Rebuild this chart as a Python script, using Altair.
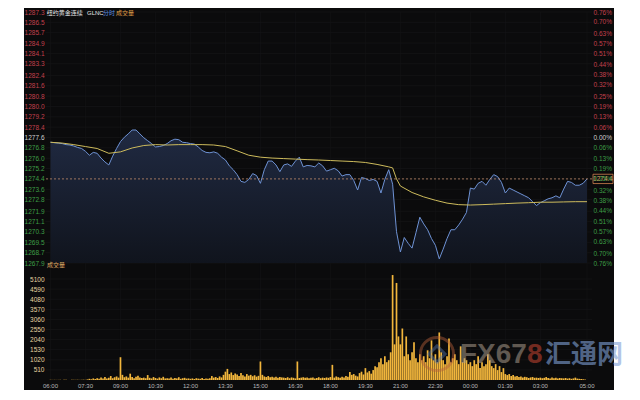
import altair as alt
import pandas as pd

# ---------------- data ----------------
price = [
    1277.24, 1277.20, 1277.17, 1277.13, 1277.05, 1277.02, 1276.94, 1276.83, 1276.75, 1276.53,
    1276.23, 1276.45, 1276.38, 1276.01, 1275.71, 1275.48, 1276.16, 1276.75, 1277.28, 1277.62,
    1277.88, 1278.18, 1278.18, 1277.88, 1277.58, 1277.35, 1277.13, 1276.87, 1276.90, 1276.98,
    1277.13, 1277.35, 1277.47, 1277.43, 1277.23, 1277.20, 1277.13, 1277.09, 1276.87, 1276.60,
    1276.45, 1276.42, 1276.49, 1276.38, 1276.08, 1275.86, 1275.41, 1275.11, 1274.73, 1274.21,
    1274.13, 1274.36, 1274.81, 1274.66, 1274.06, 1275.11, 1275.78, 1275.78, 1275.48, 1274.96,
    1275.48, 1275.56, 1275.37, 1275.78, 1276.08, 1275.33, 1275.44, 1275.41, 1275.33, 1275.63,
    1275.41, 1275.00, 1275.11, 1275.22, 1275.03, 1274.62, 1274.73, 1274.73, 1274.28, 1273.54,
    1274.51, 1274.43, 1274.28, 1274.36, 1274.21, 1273.31, 1274.36, 1275.11, 1273.99, 1270.32,
    1268.75, 1269.87, 1269.42, 1269.05, 1270.24, 1271.44, 1270.92, 1270.47, 1269.79, 1269.27,
    1268.22, 1268.97, 1269.79, 1270.47, 1270.47, 1270.84, 1271.29, 1271.81, 1273.69, 1273.61,
    1274.06, 1274.21, 1273.91, 1274.36, 1274.73, 1274.58, 1274.13, 1273.31, 1273.69, 1273.54,
    1273.39, 1273.24, 1273.09, 1272.94, 1272.64, 1272.34, 1272.56, 1272.71, 1272.86, 1272.94,
    1273.09, 1272.94, 1273.61, 1274.21, 1274.13, 1273.91, 1273.91, 1274.06, 1274.40,
]
price_minutes = list(range(0, 1381, 10))  # minutes after 06:00

avg_minutes = list(range(0, 871, 30)) + [880, 890] + list(range(900, 1381, 30))
avg_price = [
    1277.23, 1277.17, 1277.05, 1276.90, 1276.75, 1276.38, 1276.49, 1276.79, 1276.98, 1277.05,
    1277.02, 1277.05, 1277.05, 1277.05, 1277.02, 1276.90, 1276.57, 1276.23, 1276.08, 1276.01,
    1275.97, 1275.93, 1275.89, 1275.86, 1275.82, 1275.78, 1275.74, 1275.67, 1275.52, 1275.33,
    1275.25, 1274.40,
    1273.85, 1273.35, 1273.01, 1272.75, 1272.53, 1272.41, 1272.38, 1272.41, 1272.45, 1272.49,
    1272.53, 1272.56, 1272.60, 1272.60, 1272.62, 1272.64, 1272.64,
]

vol_rows = [
    [10, 5, 8, 5, 6, 10, 5, 8, 12, 6, 5, 8],                          # 06
    [10, 8, 12, 6, 10, 15, 8, 30, 60, 40, 80, 50],                    # 07
    [90, 60, 120, 70, 150, 80, 110, 200, 90, 140, 180, 120],          # 08
    [1150, 260, 140, 180, 120, 320, 150, 90, 160, 210, 130, 100],     # 09
    [120, 90, 250, 110, 80, 150, 100, 70, 130, 90, 160, 80],          # 10
    [90, 70, 120, 60, 100, 80, 140, 60, 90, 110, 70, 80],             # 11
    [60, 80, 50, 90, 70, 60, 100, 50, 80, 60, 90, 200],               # 12
    [120, 150, 100, 180, 130, 260, 420, 560, 300, 380, 250, 330],     # 13
    [280, 200, 350, 240, 180, 300, 220, 260, 190, 240, 170, 210],     # 14
    [935, 260, 180, 150, 200, 140, 170, 120, 160, 110, 150, 130],     # 15
    [120, 100, 140, 90, 130, 110, 80, 935, 100, 120, 140, 110],       # 16
    [120, 90, 110, 130, 80, 100, 140, 90, 120, 100, 130, 110],        # 17
    [150, 765, 120, 180, 140, 110, 160, 130, 200, 170, 400, 260],     # 18
    [300, 220, 180, 350, 420, 280, 600, 380, 450, 320, 500, 700],     # 19
    [650, 900, 1100, 800, 1200, 900, 1000, 1400, 5300, 1800, 4900, 2200],  # 20
    [1800, 2600, 1200, 2200, 1300, 1000, 1400, 1900, 1100, 900, 1300, 1000],  # 21
    [1200, 900, 1500, 1100, 2000, 1000, 1300, 900, 2400, 1400, 1000, 800],    # 22
    [1200, 2100, 900, 1100, 1300, 1000, 800, 1700, 900, 1100, 1000, 800],     # 23
    [900, 700, 1000, 800, 1200, 600, 900, 700, 800, 1300, 1000, 700],         # 00
    [600, 800, 500, 700, 400, 600, 300, 250, 300, 200, 250, 180],     # 01
    [200, 150, 180, 120, 160, 140, 100, 130, 150, 110, 120, 100],     # 02
    [120, 90, 110, 150, 100, 80, 130, 90, 110, 80, 100, 90],          # 03
    [80, 100, 70, 90, 60, 80, 120, 70, 60, 50, 40, 30],               # 04
]
volume = [v for row in vol_rows for v in row]
vol_minutes = list(range(0, 1380, 5))

price_ticks = [1287.3, 1286.5, 1285.7, 1284.9, 1284.1, 1283.3, 1282.4, 1281.6, 1280.8,
               1280.0, 1279.2, 1278.4, 1277.6, 1276.8, 1276.0, 1275.2, 1274.4, 1273.6,
               1272.8, 1271.9, 1271.1, 1270.3, 1269.5, 1268.7, 1267.9]
pct_ticks = [0.76, 0.70, 0.63, 0.57, 0.51, 0.44, 0.38, 0.32, 0.25, 0.19, 0.13, 0.06, 0.00,
             -0.06, -0.13, -0.19, -0.25, -0.32, -0.38, -0.44, -0.51, -0.57, -0.63, -0.70, -0.76]
vol_ticks = [510, 1020, 1530, 2040, 2550, 3060, 3570, 4080, 4590, 5100]
x_tick_minutes = [0, 90, 180, 270, 360, 450, 540, 630, 720, 810, 900, 990, 1080, 1170, 1260, 1380]
x_tick_labels = ["06:00", "07:30", "09:00", "10:30", "12:00", "13:30", "15:00", "16:30",
                 "18:00", "19:30", "21:00", "22:30", "00:00", "01:30", "03:00", "05:00"]
prev_close = 1277.6
last_price = 1274.4

# ---------------- style ----------------
W, H = 546.5, 368
BG = "#0b0b0c"
RED = "#c2404c"
GREEN = "#3d9e46"
WHITE = "#cfcfcf"
BLUE = "#6e92d4"
YELLOW = "#cdbb5c"
VOLC = "#f2b63c"
VOL_LABEL = "#e6d4a0"
XLAB = "#b8b8b8"
GRID = "#18181a"
FONT = "Liberation Sans"
CJK = "Noto Sans CJK SC"

df_price = pd.DataFrame({"t": price_minutes, "p": price})
df_avg = pd.DataFrame({"t": avg_minutes, "p": avg_price})
df_vol = pd.DataFrame({"t": vol_minutes, "v": volume})
df_pt = pd.DataFrame({"p": price_ticks})
df_vt = pd.DataFrame({"v": vol_ticks})
df_xt = pd.DataFrame({"t": x_tick_minutes, "lab": x_tick_labels})
df_pct = pd.DataFrame({"pct": pct_ticks})
one = pd.DataFrame({"a": [0]})

x_scale = alt.Scale(domain=[0, 1380], nice=False, zero=False)
price_scale = alt.Scale(domain=[1267.9, 1287.3], range=[251, 0], nice=False, zero=False)
pct_scale = alt.Scale(domain=[-0.76, 0.76], range=[251, 0], nice=False, zero=False)
vol_scale = alt.Scale(domain=[0, 5100], range=[H, 267], nice=False, zero=True)

price_axis = alt.Axis(orient="left", values=price_ticks, format=".1f",
                      labelColor={"condition": [
                          {"test": "datum.value > %s" % (prev_close + 0.05), "value": RED},
                          {"test": "datum.value < %s" % (prev_close - 0.05), "value": GREEN}],
                          "value": WHITE},
                      labelFontSize=6.5, labelPadding=1.5, ticks=False, tickSize=0,
                      domain=False, grid=False, labelOverlap=False, title=None, zindex=1)
pct_axis = alt.Axis(orient="right", values=pct_ticks,
                    labelExpr="format(abs(datum.value), '.2f') + '%'",
                    labelColor={"condition": [
                        {"test": "datum.value > 0.001", "value": RED},
                        {"test": "datum.value < -0.001", "value": GREEN}],
                        "value": WHITE},
                    labelFontSize=6.5, labelPadding=1, ticks=False, tickSize=0,
                    domain=False, grid=False, labelOverlap=False, title=None, zindex=1)
vol_axis = alt.Axis(orient="left", values=vol_ticks, format="d", labelColor=VOL_LABEL,
                    labelFontSize=6.5, labelPadding=1.5, ticks=False, tickSize=0,
                    domain=False, grid=False, labelOverlap=False, title=None, zindex=1)

bg = alt.Chart(one).mark_rect(color=BG).encode(
    x=alt.value(-21.5), x2=alt.value(W + 22), y=alt.value(-4), y2=alt.value(H + 10))

price_grid = alt.Chart(df_pt).mark_rule(color=GRID, strokeWidth=0.6).encode(
    y=alt.Y("p:Q", scale=price_scale, axis=None))
vol_grid = alt.Chart(df_vt).mark_rule(color=GRID, strokeWidth=0.6).encode(
    y=alt.Y("v:Q", scale=vol_scale, axis=None))
x_grid = alt.Chart(df_xt).mark_rule(color="#141416", strokeWidth=0.6).encode(
    x=alt.X("t:Q", scale=x_scale, axis=None))
x_labels = alt.Chart(df_xt).mark_text(color=XLAB, fontSize=6, font=FONT,
                                      baseline="middle").encode(
    x=alt.X("t:Q", scale=x_scale, axis=None), y=alt.value(H + 5.5), text="lab:N")

gradient = alt.Gradient(gradient="linear",
                        stops=[alt.GradientStop(color="#202a42", offset=0),
                               alt.GradientStop(color="#10141d", offset=1)],
                        x1=1, x2=1, y1=0, y2=1)
area = alt.Chart(df_price).mark_area(color=gradient).encode(
    x=alt.X("t:Q", scale=x_scale, axis=None),
    y=alt.Y("p:Q", scale=price_scale, axis=None),
    y2=alt.datum(1267.9))
line = alt.Chart(df_price).mark_line(color=BLUE, strokeWidth=1).encode(
    x=alt.X("t:Q", scale=x_scale, axis=None),
    y=alt.Y("p:Q", scale=price_scale, axis=price_axis))
avg_line = alt.Chart(df_avg).mark_line(color=YELLOW, strokeWidth=1).encode(
    x=alt.X("t:Q", scale=x_scale, axis=None),
    y=alt.Y("p:Q", scale=price_scale, axis=None))
last_rule = alt.Chart(one).mark_rule(color="#c08c6a", strokeDash=[2, 2], strokeWidth=0.8).encode(
    y=alt.YDatum(last_price, scale=price_scale, axis=None))
pct_layer = alt.Chart(df_pct).mark_point(opacity=0).encode(
    y=alt.Y("pct:Q", scale=pct_scale, axis=pct_axis))
bars = alt.Chart(df_vol).mark_bar(color=VOLC, width=1.7).encode(
    x=alt.X("t:Q", scale=x_scale, axis=None),
    y=alt.Y("v:Q", scale=vol_scale, axis=vol_axis))

box = alt.Chart(one).mark_rect(fill=BG, stroke="#d0804e", strokeWidth=0.8).encode(
    x=alt.value(W + 1), x2=alt.value(W + 21),
    y=alt.YDatum(last_price + 0.36, scale=price_scale, axis=None),
    y2=alt.Y2Datum(last_price - 0.36))
box_text = alt.Chart(one).mark_text(color="#e0a070", fontSize=6.5, font=FONT).encode(
    x=alt.value(W + 11), y=alt.YDatum(last_price, scale=price_scale, axis=None),
    text=alt.value("1274.4"))


def label(txt, x, y, color, size=6, font=CJK, align="left", weight="normal", opacity=1.0):
    return alt.Chart(one).mark_text(color=color, fontSize=size, font=font, align=align,
                                    baseline="middle", fontWeight=weight, opacity=opacity).encode(
        x=alt.value(x), y=alt.value(y), text=alt.value(txt))


t1 = label("纽约黄金连续", 1.2, 0.5, "#e6e6e6")
t2 = label("GLNC", 41.5, 0.5, "#e6e6e6", font=FONT)
t3 = label("分时", 57.5, 0.5, "#5b8fe0")
t4 = label("成交量", 70.5, 0.5, "#e3a24a")
t5 = label("成交量", 1.5, 252.5, "#e2b068")

logo = alt.Chart(one).mark_point(shape="circle", size=1100, filled=False, stroke="#b8603a",
                                 strokeWidth=3, opacity=0.45).encode(
    x=alt.value(391.5), y=alt.value(342))
logo2 = alt.Chart(one).mark_point(shape="diamond", size=260, filled=False, stroke="#5577aa",
                                  strokeWidth=3, opacity=0.45).encode(
    x=alt.value(391.5), y=alt.value(342))
wm1 = label("FX67", 414.5, 343, "#a8998a", size=28, font=FONT, weight="bold", opacity=0.55)
wm2 = label("8", 481.5, 343, "#b8402e", size=28, font=FONT, weight="bold", opacity=0.6)
wm3 = label("汇通网", 499.5, 343, "#7f9fd6", size=26, weight="bold", opacity=0.6)

chart = alt.layer(
    bg, price_grid, vol_grid, x_grid, area, line, avg_line, last_rule, pct_layer, bars,
    x_labels, box, box_text, t1, t2, t3, t4, t5, logo, logo2, wm1, wm2, wm3
).resolve_scale(y="independent").properties(
    width=W, height=H,
    padding={"left": 37.5, "top": 4, "right": 40, "bottom": 10},
    autosize=alt.AutoSizeParams(type="none"),
    background="#ffffff",
).configure_view(stroke=None).configure_axis(labelFont=FONT)

chart.save("out.html", embed_options={"renderer": "svg", "actions": False})
